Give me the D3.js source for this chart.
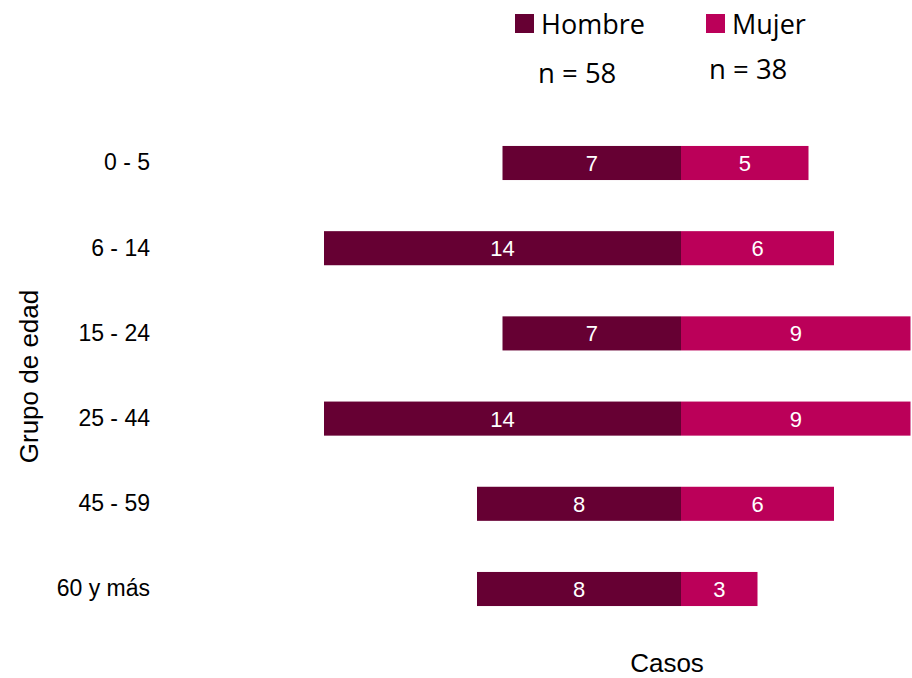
<!DOCTYPE html>
<html><head><meta charset="utf-8">
<script src="https://cdn.jsdelivr.net/npm/d3@7"></script>
<style>body{margin:0;background:#fff}</style>
</head><body>
<svg id="c" width="912" height="678"></svg>
<script>
const categories = ["0 - 5","6 - 14","15 - 24","25 - 44","45 - 59","60 y más"];
const hombre = [7,14,7,14,8,8];
const mujer = [5,6,9,9,6,3];
const seriesNames = ["Hombre","Mujer"];
const seriesN = ["n = 58","n = 38"];
const colors = ["#660033","#BB0059"];

const svg = d3.select("#c");
const x = d3.scaleLinear().domain([-14, 10]).range([324, 936]);
const y = d3.scaleBand().domain(categories).range([120.4, 631.6]).paddingInner(0.6).paddingOuter(0.3);

const g = svg.append("g");
g.selectAll("rect.h").data(categories).join("rect").attr("class","h")
  .attr("x", (d,i)=>x(-hombre[i])).attr("width",(d,i)=>x(0)-x(-hombre[i]))
  .attr("y", d=>y(d)).attr("height", y.bandwidth()).attr("fill", colors[0]);
g.selectAll("rect.m").data(categories).join("rect").attr("class","m")
  .attr("x", x(0)).attr("width",(d,i)=>x(mujer[i])-x(0))
  .attr("y", d=>y(d)).attr("height", y.bandwidth()).attr("fill", colors[1]);

const lblFont = "Liberation Sans, Arial, sans-serif";
g.selectAll("text.hv").data(categories).join("text").attr("class","hv")
  .attr("x",(d,i)=>(x(-hombre[i])+x(0))/2).attr("y",d=>y(d)+y.bandwidth()/2)
  .attr("dy","0.36em").attr("text-anchor","middle").attr("fill","#fff")
  .style("font-family",lblFont).style("font-size","22px").text((d,i)=>hombre[i]);
g.selectAll("text.mv").data(categories).join("text").attr("class","mv")
  .attr("x",(d,i)=>(x(mujer[i])+x(0))/2).attr("y",d=>y(d)+y.bandwidth()/2)
  .attr("dy","0.36em").attr("text-anchor","middle").attr("fill","#fff")
  .style("font-family",lblFont).style("font-size","22px").text((d,i)=>mujer[i]);

const ya = svg.append("g").attr("transform","translate(160,0)")
  .call(d3.axisLeft(y).tickSize(0).tickPadding(10));
ya.select(".domain").remove();
ya.selectAll("text").style("font-family",lblFont).style("font-size","23px").attr("fill","#000");

svg.append("text").attr("x",667).attr("y",672).attr("text-anchor","middle")
  .style("font-family",lblFont).style("font-size","26px").text("Casos");
svg.append("text").attr("transform","translate(38,376.5) rotate(-90)").attr("text-anchor","middle")
  .style("font-family",lblFont).style("font-size","26px").text("Grupo de edad");

const legFont = "Open Sans, Noto Sans, sans-serif";
const legX = [515, 706];
const nX = [538, 709];
const nY = [83, 79];
seriesNames.forEach((s,i)=>{
  svg.append("rect").attr("x",legX[i]).attr("y",14).attr("width",19).attr("height",19).attr("fill",colors[i]);
  svg.append("text").attr("x",legX[i]+26).attr("y",34).style("font-family",legFont).style("font-size","27px").text(s);
  svg.append("text").attr("x",nX[i]).attr("y",nY[i]).style("font-family",legFont).style("font-size","27.5px").text(seriesN[i]);
});
</script>
</body></html>
